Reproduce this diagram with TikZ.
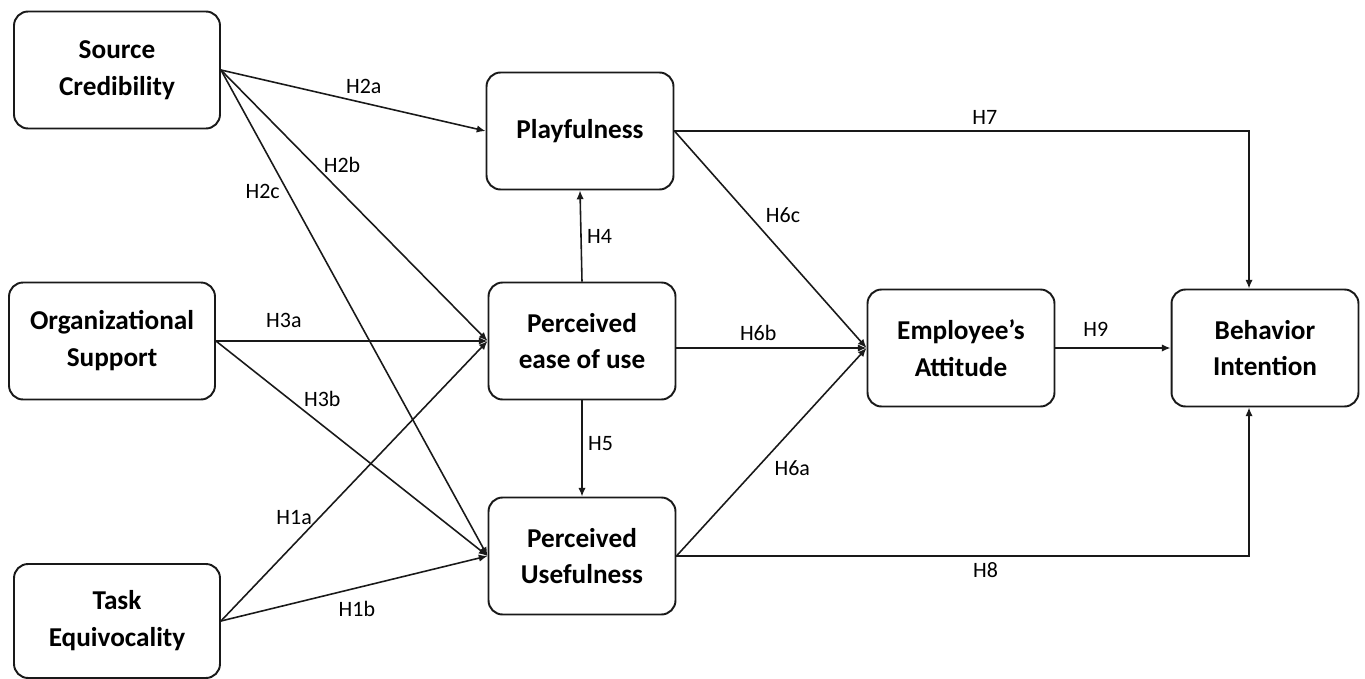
\documentclass[tikz,border=0pt]{standalone}
\usepackage{fontspec}
\setmainfont{Carlito}
\usetikzlibrary{arrows.meta}

\begin{document}
\begin{tikzpicture}[
  x=0.02cm, y=-0.02cm,
  >={Latex[length=5pt,width=4.2pt]},
  construct/.style={draw=black!90, rounded corners=8pt, line width=1.1pt, minimum width=3.74cm, minimum height=2.34cm, align=center, font=\fontsize{15.5}{21}\selectfont\bfseries},
  source/.style={construct, minimum width=4.12cm},
  hyp/.style={->, line width=0.9pt, draw=black!90},
  hlab/.style={font=\fontsize{12.5}{14}\selectfont, inner sep=1pt}
]
  \useasboundingbox (0,0) rectangle (1365,679);

  \node[source] (sc) at (117,70) {Source\\Credibility};
  \node[source] (os) at (112,341) {Organizational\\Support};
  \node[source, minimum height=2.28cm] (te) at (117,621) {Task\\Equivocality};

  \node[construct] (play) at (580,131) {Playfulness};
  \node[construct] (peou) at (582,341) {Perceived\\ease of use};
  \node[construct] (pu) at (582,556) {Perceived\\Usefulness};
  \node[construct] (att) at (961,348) {Employee’s\\Attitude};
  \node[construct] (bi) at (1265,348) {Behavior\\Intention};
  \coordinate (turn) at (1249,0);

  \draw[hyp] (sc.east) -- node[hlab, pos=0.54, above=4pt] {H2a} (play.west);
  \draw[hyp] (sc.east) -- node[hlab, pos=0.35, right=4pt] {H2b} (peou.west);
  \draw[hyp] (sc.east) -- node[hlab, pos=0.25, left=3pt] {H2c} (pu.west);
  \draw[hyp] (os.east) -- node[hlab, pos=0.25, above=6pt] {H3a} (peou.west);
  \draw[hyp] (os.east) -- node[hlab, pos=0.27, right=7pt] {H3b} (pu.west);
  \draw[hyp] (te.east) -- node[hlab, pos=0.37, left=3pt] {H1a} (peou.west);
  \draw[hyp] (te.east) -- node[hlab, pos=0.51, below=6pt] {H1b} (pu.west);

  \draw[hyp] (peou.north) -- node[hlab, right=2pt] {H4} (play.south);
  \draw[hyp] (peou.south) -- node[hlab, pos=0.45, right=2pt] {H5} (pu.north);

  \draw[hyp] (play.east) -- node[hlab, pos=0.39, right=8pt] {H6c} (att.west);
  \draw[hyp] (peou.east |- att.west) -- node[hlab, pos=0.43, above=3pt] {H6b} (att.west);
  \draw[hyp] (pu.east) -- node[hlab, pos=0.42, right=9pt] {H6a} (att.west);

  \draw[hyp] (play.east) -| node[hlab, pos=0.27, above=2pt] {H7} (turn |- bi.north);
  \draw[hyp] (pu.east) -| node[hlab, pos=0.27, below=2pt] {H8} (turn |- bi.south);
  \draw[hyp] (att.east) -- node[hlab, pos=0.35, above=5pt] {H9} (bi.west);
\end{tikzpicture}
\end{document}
